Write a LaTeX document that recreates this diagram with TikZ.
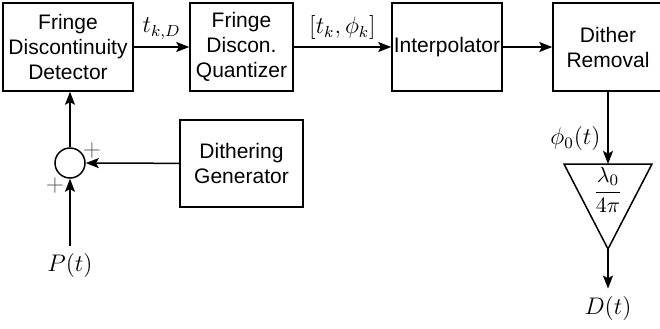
\documentclass[tikz,border=0pt]{standalone}
\usepackage[no-math]{fontspec}
\newfontfamily\blockfont{Liberation Sans}
\usepackage{tikz}
\usetikzlibrary{arrows.meta}
\usepackage{amsmath}

\begin{document}
\begin{tikzpicture}[x=0.5pt, y=-0.5pt, line width=0.75pt,
  block/.style={draw, align=center, inner sep=0pt, minimum height=44pt,
    font=\blockfont\fontsize{10.5}{12.5}\selectfont},
  sig/.style={-{Stealth[length=6.5pt, width=5pt, inset=1.3pt]}},
  lbl/.style={font=\fontsize{12}{14}\selectfont}]
  \useasboundingbox (0,0) rectangle (660,328);

  % Top row: the chain of blocks
  \node[block, minimum width=65pt] (det) at (68,47) {Fringe\\Discontinuity\\Detector};
  \node[block, minimum width=51.5pt] (quant) at (241.5,47) {Fringe\\Discon.\\Quantizer};
  \node[block, minimum width=55pt] (interp) at (447,47) {Interpolator};
  \node[block, minimum width=55pt] (rem) at (608,47) {Dither\\Removal};
  \draw[sig] (det) -- (quant) node[lbl, midway, above] {$t_{k,D}$};
  \draw[sig] (quant) -- (interp) node[lbl, midway, above] {$[t_k,\phi_k]$};
  \draw[sig] (interp) -- (rem);

  % Left: dither is added to the input
  \node[block, minimum width=61.5pt, minimum height=43.5pt] (gen) at (241.5,163.5) {Dithering\\Generator};
  \node[circle, draw, minimum size=15pt, inner sep=0pt] (sum) at (70,163) {};
  \node[lbl, text=black!65] (plusa) at (92,150) {$+$};
  \node[lbl, text=black!65] (plusb) at (55,185) {$+$};
  \node[lbl] (pin) at (70,265) {$P(t)$};
  \draw[sig] (gen) -- (sum);
  \draw[sig] (pin) -- (sum);
  \draw[sig] (sum.north) -- (sum.north |- det.south);

  % Right: gain to displacement
  \coordinate (gl) at (564,164);
  \coordinate (gr) at (652,164);
  \coordinate (gtip) at (608,249);
  \draw (gl) -- (gr) -- (gtip) -- cycle;
  \node[font=\fontsize{11}{13}\selectfont] (gain) at (608,190) {$\dfrac{\lambda_0}{4\pi}$};
  \node[lbl] (dout) at (608,308) {$D(t)$};
  \draw[sig] (rem.south) -- (rem.south |- gl)
    node[lbl, pos=0.65, left] {$\phi_0(t)$};
  \draw[sig] (gtip) -- (dout);
\end{tikzpicture}
\end{document}
